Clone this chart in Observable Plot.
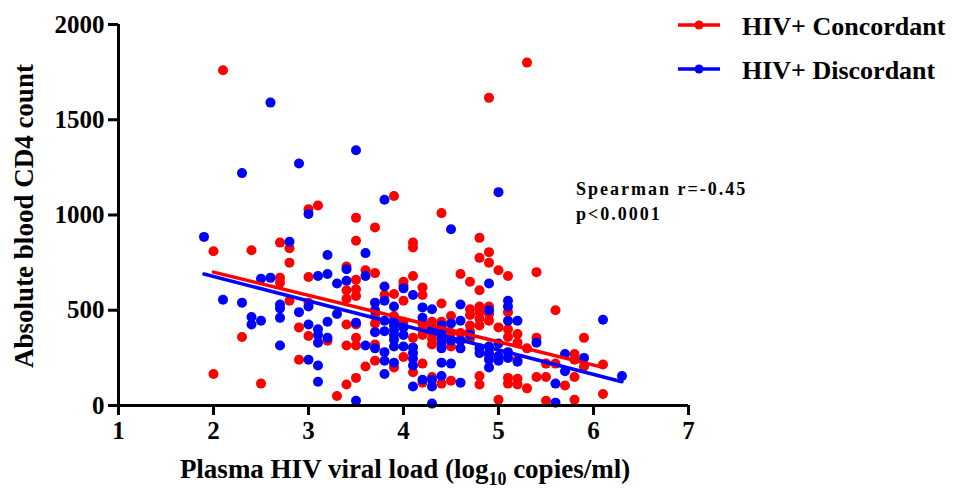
<!DOCTYPE html>
<html><head><meta charset="utf-8">
<script src="https://cdn.jsdelivr.net/npm/d3@7"></script>
<script src="https://cdn.jsdelivr.net/npm/@observablehq/plot@0.6"></script>
<style>body{margin:0;background:#fff}</style>
</head><body><div id="chart"></div>
<script>
// HIV+ Concordant (log10 viral load, CD4 count)
const concX = [2.1,3.0,3.1,5.3,4.9,3.9,4.4,2.0,2.4,2.7,2.8,2.8,3.5,3.7,3.5,3.4,3.6,3.7,2.7,2.7,3.0,3.5,3.4,3.5,3.4,3.5,2.8,3.0,3.5,3.4,2.9,3.0,3.2,3.4,3.5,3.5,3.7,3.7,3.6,3.5,3.4,3.3,2.3,2.0,2.5,2.9,
3.7,3.7,3.8,3.9,3.9,3.9,4.0,4.0,4.0,4.0,4.0,4.1,4.1,4.1,4.1,4.1,4.2,4.2,4.2,4.2,4.2,4.2,4.2,4.3,4.3,4.3,4.3,4.3,4.3,4.4,4.4,4.4,4.4,4.4,4.4,4.5,4.5,4.5,4.5,4.5,4.6,4.6,4.6,4.7,4.7,4.7,4.7,4.7,4.7,4.8,4.8,4.8,4.8,4.8,4.8,4.8,4.8,4.8,4.9,4.9,4.9,4.9,4.9,4.9,5.0,5.0,5.0,5.1,5.1,5.1,5.1,5.1,5.1,5.2,5.2,5.2,5.2,5.2,5.3,5.3,5.4,5.4,5.4,5.6,5.9,5.8,5.8,5.9,6.1,5.5,5.5,5.6,5.7,5.8,6.1,5.8,5.5];
const concY = [1760,1030,1050,1800,1615,1100,1010,810,815,855,825,750,985,935,865,730,710,695,670,645,675,660,605,610,560,575,550,540,425,425,410,365,340,315,315,355,320,235,205,145,110,50,360,165,115,240,
470,430,580,585,470,200,650,630,550,440,255,855,830,680,355,175,620,580,430,400,370,220,120,440,410,380,350,320,150,535,440,410,380,345,115,470,380,340,310,130,690,380,345,650,505,475,420,390,350,880,775,605,520,490,455,420,155,110,805,750,520,480,445,260,710,410,30,680,490,400,360,145,115,375,330,240,140,110,90,300,700,355,150,500,355,270,240,205,215,220,150,220,105,150,60,30,25];
// HIV+ Discordant
const discX = [2.6,3.5,2.9,2.3,3.0,5.0,3.8,1.9,2.8,3.2,3.6,3.4,3.6,2.5,2.6,3.1,3.2,3.3,3.4,2.1,2.3,2.7,2.7,3.0,3.7,3.7,2.4,2.4,2.5,2.7,2.9,3.3,3.2,3.5,3.0,3.1,3.1,3.1,3.2,3.6,3.7,3.7,3.5,2.7,3.0,3.1,3.1,
3.8,3.8,3.8,3.8,3.8,3.8,3.8,3.9,3.9,3.9,3.9,3.9,3.9,3.9,3.9,4.0,4.0,4.0,4.0,4.1,4.1,4.1,4.1,4.1,4.1,4.2,4.2,4.2,4.3,4.3,4.3,4.3,4.3,4.4,4.4,4.4,4.4,4.4,4.4,4.4,4.5,4.5,4.5,4.5,4.6,4.6,4.6,4.6,4.6,4.7,4.8,4.8,4.9,4.9,4.9,4.9,4.9,4.9,5.0,5.0,5.0,5.1,5.1,5.1,5.1,5.1,5.2,5.2,5.4,6.1,5.7,5.9,5.7,5.6,6.3,5.6];
const discY = [1590,1340,1270,1220,1005,1120,1080,885,860,790,800,715,680,665,670,680,690,640,655,555,540,530,510,520,540,500,465,425,445,460,490,480,440,435,425,400,370,330,355,315,300,385,25,315,240,210,125,
625,550,445,390,280,235,165,520,445,420,395,370,345,310,225,615,410,370,310,580,305,275,245,210,100,515,460,135,505,400,135,100,10,420,390,360,330,300,225,155,925,430,340,220,530,445,340,300,120,370,300,275,640,500,310,275,240,200,325,260,235,550,520,445,280,250,445,230,330,450,270,250,180,115,155,15];
// Fitted regression lines (end points)
const concFitX = [2.0, 6.1], concFitY = [700, 200];
const discFitX = [1.9, 6.3], discFitY = [690, 125];
const xTicks = [1,2,3,4,5,6,7];
const yTicks = [0,500,1000,1500,2000];
const seriesNames = ["HIV+ Concordant","HIV+ Discordant"];
const seriesColors = ["#ff0000","#0000ff"];
const statLines = ["Spearman r=-0.45","p<0.0001"];

const conc = concX.map((x,i)=>({x, y:concY[i]}));
const disc = discX.map((x,i)=>({x, y:discY[i]}));
const concFit = concFitX.map((x,i)=>({x, y:concFitY[i]}));
const discFit = discFitX.map((x,i)=>({x, y:discFitY[i]}));

const FONT = "'Liberation Serif','Times New Roman',serif";
const chart = Plot.plot({
  width: 953, height: 495,
  marginLeft: 118, marginRight: 265, marginTop: 24, marginBottom: 90,
  x: {domain: [1,7]}, y: {domain: [0,2000]},
  style: {fontFamily: FONT, fontWeight: "bold", color: "#000", background: "#fff", overflow: "visible"},
  marks: [
    Plot.dot(conc, {x:"x", y:"y", r:5, fill: seriesColors[0]}),
    Plot.dot(disc, {x:"x", y:"y", r:5, fill: seriesColors[1]}),
    Plot.line(discFit, {x:"x", y:"y", stroke: seriesColors[1], strokeWidth: 3.5}),
    Plot.line(concFit, {x:"x", y:"y", stroke: seriesColors[0], strokeWidth: 3.5}),
    Plot.ruleY([0], {strokeWidth: 3}),
    Plot.ruleX([1], {strokeWidth: 3}),
    Plot.axisX({ticks: xTicks, tickSize: 10, tickPadding: 6, strokeWidth: 3, fontSize: 25, label: null, tickFormat: d => String(d)}),
    Plot.axisY({ticks: yTicks, tickSize: 10, tickPadding: 4, strokeWidth: 3, fontSize: 25, label: null, tickFormat: d => String(d)})
  ]
});
document.getElementById("chart").appendChild(chart);

const svg = d3.select(chart);
// x title
const xt = svg.append("text").attr("x", 405).attr("y", 478).attr("text-anchor","middle")
  .attr("font-family", FONT).attr("font-weight","bold").attr("font-size", 27).attr("fill","#000");
xt.append("tspan").text("Plasma HIV viral load (log");
xt.append("tspan").attr("dy", 7).attr("font-size", 18).text("10");
xt.append("tspan").attr("dy", -7).text(" copies/ml)");
// y title
svg.append("text").attr("transform","translate(33,216) rotate(-90)").attr("text-anchor","middle")
  .attr("font-family", FONT).attr("font-weight","bold").attr("font-size", 27).attr("fill","#000")
  .text("Absolute blood CD4 count");
// legend
seriesNames.forEach((name, i) => {
  const y = 25 + i * 44;
  const g = svg.append("g");
  g.append("line").attr("x1", 678).attr("x2", 720).attr("y1", y).attr("y2", y)
    .attr("stroke", seriesColors[i]).attr("stroke-width", 3.5);
  g.append("circle").attr("cx", 699).attr("cy", y).attr("r", 4.5).attr("fill", seriesColors[i]);
  g.append("text").attr("x", 742).attr("y", y + 10).attr("text-anchor","start").attr("font-family", FONT).attr("font-weight","bold")
    .attr("font-size", 26).attr("fill","#000").text(name);
});
// statistics
statLines.forEach((t, i) => {
  svg.append("text").attr("x", 576).attr("y", 195 + i * 25).attr("text-anchor","start").attr("font-family", FONT).attr("font-weight","bold")
    .attr("font-size", 18).attr("letter-spacing", "2px").attr("fill","#000").text(t);
});
</script></body></html>
